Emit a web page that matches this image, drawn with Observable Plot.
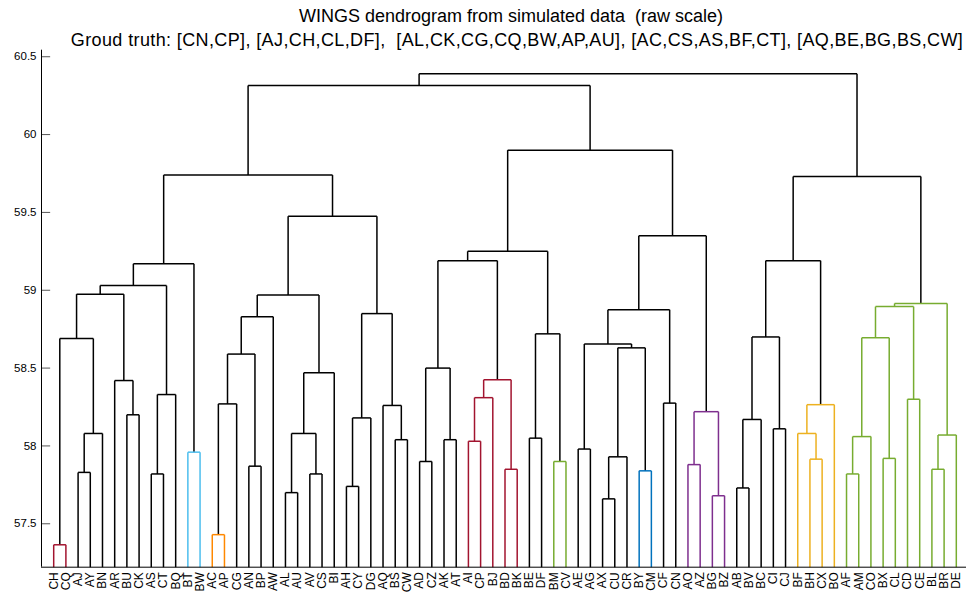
<!DOCTYPE html>
<html><head><meta charset="utf-8">
<script src="https://cdn.jsdelivr.net/npm/d3@7"></script>
<script src="https://cdn.jsdelivr.net/npm/@observablehq/plot@0.6"></script>
<style>
body{margin:0;background:#fff;font-family:"Liberation Sans",Arial,sans-serif;}
#wrap{position:relative;width:966px;height:593px;overflow:hidden;}
.t{position:absolute;white-space:pre;font-size:18px;color:#000;transform:translateX(-50%);line-height:1;}
#chart{position:absolute;left:0;top:0;}
</style></head><body>
<div id="wrap">
<div id="chart"></div>
<div class="t" style="top:7px;left:511px">WINGS dendrogram from simulated data  (raw scale)</div>
<div class="t" style="top:31px;left:517px;letter-spacing:0.38px">Groud truth: [CN,CP], [AJ,CH,CL,DF],  [AL,CK,CG,CQ,BW,AP,AU], [AC,CS,AS,BF,CT], [AQ,BE,BG,BS,CW]</div>
</div>
<script>
// Leaf order (left to right)
const leaves = ["CH","CQ","AJ","AY","BN","AR","BU","CK","AS","CT","BQ","BT","BW","AC","AP","CG","AN","BP","AW","AL",
  "AU","AV","CS","BI","AH","CY","DG","AQ","BS","CW","AD","CZ","AK","AT","AI","CP","BJ","BD","BK","BE",
  "DF","BM","CV","AE","AG","AX","CU","CR","BY","CM","CF","CN","AO","AZ","BG","BZ","AB","BV","BC","CI",
  "CJ","BF","BH","CX","BO","AF","AM","CO","BX","CL","CD","CE","BL","BR","DE"];

// Linkage: merge k joins mergeA[k] and mergeB[k] at height mergeH[k]; "mN" refers to merge N
const mergeA = [
  "CH","AJ","m1","m0","BU","AR","m3","AS","m7","m6",
  "BT","m9","AC","m12","AN","m13","m15","AL","AV","m17",
  "m19","m16","AH","m22","BS","AQ","m23","m21","m11","AD",
  "AK","m29","AI","m32","BD","m33","m31","BE","BM","m37",
  "m36","AE","AX","m42","BY","m43","m41","CF","m46","AO",
  "BG","m49","m48","m40","m28","AB","m55","CI","m56","BH",
  "BF","m60","m58","AF","m63","BX","m64","CD","m66","BL",
  "m69","m68","m62","m54"];
const mergeB = [
  "CQ","AY","BN","m2","CK","m4","m5","CT","BQ","m8",
  "BW","m10","AP","CG","BP","m14","AW","AU","CS","m18",
  "BI","m20","CY","DG","CW","m24","m25","m26","m27","CZ",
  "AT","m30","CP","BJ","BK","m34","m35","DF","CV","m38",
  "m39","AG","CU","CR","CM","m44","m45","CN","m47","AZ",
  "BZ","m50","m51","m52","m53","BV","BC","CJ","m57","CX",
  "m59","BO","m61","AM","CO","CL","m65","CE","m67","BR",
  "DE","m70","m71","m72"];
const mergeH = [
  57.365,57.83,58.08,58.69,58.20,58.42,58.975,57.82,58.33,59.03,
  57.96,59.17,57.43,58.27,57.87,58.59,58.83,57.70,57.82,58.08,
  58.47,58.97,57.74,58.18,58.04,58.26,58.85,59.475,59.74,57.90,
  58.04,58.50,58.03,58.31,57.85,58.425,59.19,58.05,57.90,58.72,
  59.25,57.98,57.66,57.93,57.84,58.63,58.655,58.275,58.875,57.88,
  57.68,58.22,59.35,59.90,60.315,57.73,58.17,58.11,58.70,57.915,
  58.08,58.265,59.19,57.82,58.06,57.92,58.695,58.30,58.895,57.85,
  58.07,58.915,59.73,60.39];

// Colored clusters
const groupNames = ["g1","g2","g3","g4","g5","g6","g7","g8","g9"];
const groupLeaves = [
  ["CH","CQ"],["BT","BW"],["AC","AP"],["AI","CP","BJ","BD","BK"],["BM","CV"],["BY","CM"],
  ["AO","AZ","BG","BZ"],["BF","BH","CX","BO"],["AF","AM","CO","BX","CL","CD","CE","BL","BR","DE"]];

const yTicks = [57.5,58,58.5,59,59.5,60,60.5];
const yMin = 57.221, yMax = 60.542;

// build tree geometry
const leafGroup = {};
groupLeaves.forEach((g,i)=>g.forEach(l=>leafGroup[l]=groupNames[i]));
const nodes = {};
leaves.forEach((l,i)=>{ nodes[l] = {x:i+1, h:yMin, group:leafGroup[l] ?? "none"}; });
const segs = [];
mergeH.forEach((h,k)=>{
  const a = nodes[mergeA[k]], b = nodes[mergeB[k]];
  const group = (a.group !== "none" && a.group === b.group) ? a.group : "none";
  segs.push({x1:a.x,y1:a.h,x2:a.x,y2:h,group});
  segs.push({x1:a.x,y1:h,x2:b.x,y2:h,group});
  segs.push({x1:b.x,y1:b.h,x2:b.x,y2:h,group});
  nodes["m"+k] = {x:(a.x+b.x)/2, h, group};
});
segs.sort((p,q)=>(p.group!=="none")-(q.group!=="none"));

const chart = Plot.plot({
  width: 966, height: 593,
  marginTop: 49.7, marginBottom: 26.3, marginLeft: 41, marginRight: 0,
  style: {fontFamily: '"Liberation Sans", Arial, sans-serif', fontSize: "11px", color: "#000", background: "#fff"},
  x: {domain: [0, 76], range: [41, 968]},
  y: {domain: [yMin, yMax]},
  color: {type: "ordinal", domain: [...groupNames, "none"],
    range: ["#A2142F","#4DBEEE","#FF8800","#A2142F","#77AC30","#0072BD","#7E2F8E","#EDB120","#77AC30","#000000"]},
  marks: [
    Plot.axisY({ticks: yTicks, tickSize: 0, tickPadding: 5, tickFormat: d => String(d), label: null, fontSize: 11.5}),
    Plot.ruleY(yTicks, {x1: 0, x2: 0.75, stroke: "#555", strokeWidth: 1}),
    Plot.axisX({ticks: d3.range(1, leaves.length + 1), tickFormat: i => leaves[i-1], tickRotate: -90, tickSize: 0, tickPadding: 5, label: null, fontSize: 12}),
    Plot.link(segs, {x1:"x1", y1:"y1", x2:"x2", y2:"y2", stroke:"group", strokeWidth: 1.5}),
    Plot.ruleX([0], {stroke: "#000", strokeWidth: 1}),
    Plot.ruleY([yMin], {stroke: "#000", strokeWidth: 1})
  ]
});
document.getElementById("chart").appendChild(chart);
</script>
</body></html>
